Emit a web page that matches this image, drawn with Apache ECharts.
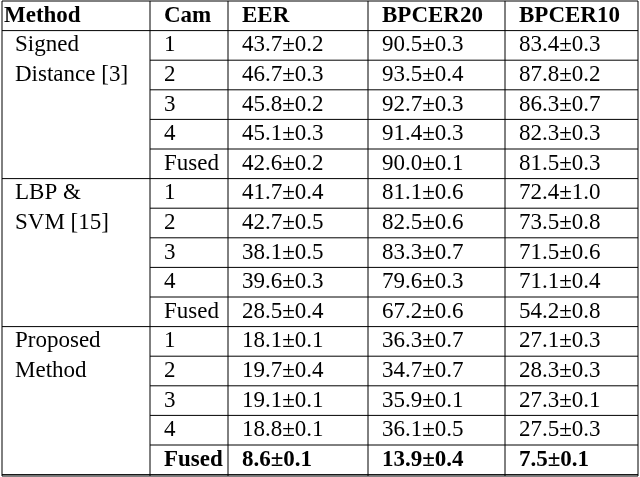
<!DOCTYPE html>
<html><head><meta charset="utf-8">
<script src="https://cdn.jsdelivr.net/npm/echarts@6/dist/echarts.min.js"></script>
<style>html,body{margin:0;padding:0;background:#fff}#c{width:640px;height:477px}</style>
</head><body><div id="c"></div>
<script>
const headers = ['Method','Cam','EER','BPCER20','BPCER10'];
const methods = [['Signed','Distance [3]'],['LBP &','SVM [15]'],['Proposed','Method']];
const cams = ['1','2','3','4','Fused'];
const eer = [['43.7±0.2','46.7±0.3','45.8±0.2','45.1±0.3','42.6±0.2'],
             ['41.7±0.4','42.7±0.5','38.1±0.5','39.6±0.3','28.5±0.4'],
             ['18.1±0.1','19.7±0.4','19.1±0.1','18.8±0.1','8.6±0.1']];
const bp20 = [['90.5±0.3','93.5±0.4','92.7±0.3','91.4±0.3','90.0±0.1'],
              ['81.1±0.6','82.5±0.6','83.3±0.7','79.6±0.3','67.2±0.6'],
              ['36.3±0.7','34.7±0.7','35.9±0.1','36.1±0.5','13.9±0.4']];
const bp10 = [['83.4±0.3','87.8±0.2','86.3±0.7','82.3±0.3','81.5±0.3'],
              ['72.4±1.0','73.5±0.8','71.5±0.6','71.1±0.4','54.2±0.8'],
              ['27.1±0.3','28.3±0.3','27.3±0.1','27.5±0.3','7.5±0.1']];
const colX = [2,150,228,368,505,638];
const top0 = 1, rowH = 29.6;
const F = '"Liberation Serif","DejaVu Serif",serif';
const g = [];
function txt(x,y,s,bold){g.push({type:'text',x:x,y:y,style:{text:s,font:(bold?'bold ':'')+'23px '+F,fill:'#000',textVerticalAlign:'middle'}});}
function line(x1,y1,x2,y2){g.push({type:'line',shape:{x1,y1,x2,y2},style:{stroke:'#000',lineWidth:1}});}
headers.forEach((h,i)=>txt(colX[i]+(i==0?2:14),top0+rowH/2,h,true));
for(let m=0;m<3;m++){
  methods[m].forEach((s,k)=>txt(colX[0]+13,top0+rowH*(1+m*5+k)+rowH/2,s,false));
  for(let r=0;r<5;r++){
    const y=top0+rowH*(1+m*5+r)+rowH/2, b=(m==2&&r==4);
    txt(colX[1]+14,y,cams[r],b);
    txt(colX[2]+14,y,eer[m][r],b);
    txt(colX[3]+14,y,bp20[m][r],b);
    txt(colX[4]+14,y,bp10[m][r],b);
    if(r>0) line(colX[1],top0+rowH*(1+m*5+r),colX[5],top0+rowH*(1+m*5+r));
  }
}
for(let k=0;k<=3;k++){const y=top0+rowH*(1+k*5); line(colX[0],y,colX[5],y);}
line(colX[0],top0,colX[5],top0);
line(colX[0],476,colX[5],476);
colX.forEach(x=>line(x,top0,x,476));
const chart=echarts.init(document.getElementById('c'));
chart.setOption({animation:false,graphic:g});
</script></body></html>
